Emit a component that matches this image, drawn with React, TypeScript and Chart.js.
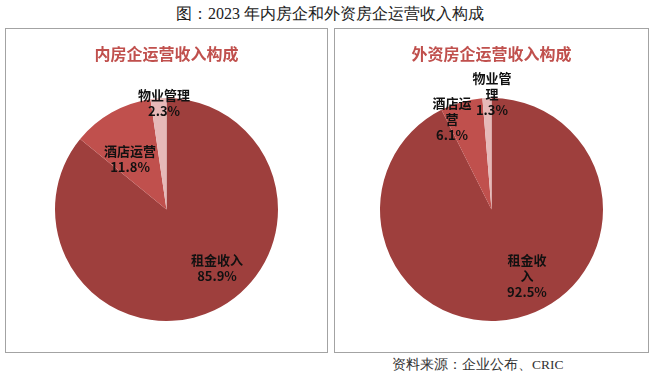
import React, { useEffect, useRef } from "react";
import { Chart, registerables } from "chart.js";

Chart.register(...registerables);

const categories = ["租金收入", "酒店运营", "物业管理"];
const domesticValues = [85.9, 11.8, 2.3];
const foreignValues = [92.5, 6.1, 1.3];
const domesticNameLines = [["租金收入"], ["酒店运营"], ["物业管理"]];
const foreignNameLines = [["租金收", "入"], ["酒店运", "营"], ["物业管", "理"]];
const sliceColors = ["#9E3F3D", "#C0504D", "#E6B9B8"];

const mainTitle = "图：2023 年内房企和外资房企运营收入构成";
const domesticTitle = "内房企运营收入构成";
const foreignTitle = "外资房企运营收入构成";
const sourceText = "资料来源：企业公布、CRIC";

type LabelOpts = { names: string[][]; offsets: [number, number][] };

const sliceLabelPlugin = {
  id: "sliceLabels",
  afterDatasetsDraw(chart: any, _args: any, opts: LabelOpts) {
    const meta = chart.getDatasetMeta(0);
    const data = chart.data.datasets[0].data as number[];
    const ctx = chart.ctx;
    ctx.save();
    ctx.font = "bold 13px 'Noto Sans CJK SC', 'Noto Sans', sans-serif";
    ctx.fillStyle = "#111";
    ctx.textAlign = "center";
    ctx.textBaseline = "middle";
    const lh = 16;
    meta.data.forEach((arc: any, i: number) => {
      const p = arc.getProps(["x", "y", "outerRadius"], true);
      const off = opts.offsets[i];
      const lines = [...opts.names[i], data[i].toFixed(1) + "%"];
      const bx = p.x + off[0] * p.outerRadius;
      const by = p.y + off[1] * p.outerRadius;
      const y0 = by - ((lines.length - 1) * lh) / 2;
      lines.forEach((t, k) => ctx.fillText(t, bx, y0 + k * lh));
    });
    ctx.restore();
  },
};

function PiePanel(props: {
  values: number[];
  names: string[][];
  offsets: [number, number][];
  title: string;
  left: number;
  width: number;
  padLeft: number;
  padRight: number;
}) {
  const ref = useRef<HTMLCanvasElement | null>(null);
  useEffect(() => {
    if (!ref.current) return;
    const chart = new Chart(ref.current, {
      type: "pie",
      data: {
        labels: categories,
        datasets: [
          {
            data: props.values,
            backgroundColor: sliceColors,
            borderWidth: 0,
          },
        ],
      },
      options: {
        responsive: false,
        animation: false,
        devicePixelRatio: 1,
        layout: {
          padding: { left: props.padLeft, right: props.padRight, top: 69, bottom: 31 },
        },
        plugins: {
          legend: { display: false },
          tooltip: { enabled: false },
          title: { display: false },
          sliceLabels: { names: props.names, offsets: props.offsets },
        } as any,
      },
      plugins: [sliceLabelPlugin as any],
    });
    return () => chart.destroy();
  }, []);
  return (
    <div
      style={{
        position: "absolute",
        left: props.left,
        top: 28,
        width: props.width,
        height: 323,
        border: "1px solid #A3A3A3",
      }}
    >
      <canvas
        ref={ref}
        width={props.width}
        height={323}
        style={{ position: "absolute", left: 0, top: 0, width: props.width, height: 323 }}
      />
      <div
        style={{
          position: "absolute",
          left: 0,
          width: props.width,
          top: 13,
          textAlign: "center",
          font: "bold 16px 'Noto Sans CJK SC', sans-serif",
          color: "#C0504D",
          lineHeight: "22px",
        }}
      >
        {props.title}
      </div>
    </div>
  );
}

export default function App() {
  return (
    <div
      style={{
        position: "absolute",
        left: 0,
        top: 0,
        width: 660,
        height: 382,
        background: "#fff",
        overflow: "hidden",
      }}
    >
      <div
        style={{
          position: "absolute",
          left: 0,
          width: 660,
          top: 3,
          textAlign: "center",
          fontFamily: "serif",
          fontSize: 16,
          lineHeight: "22px",
          color: "#222",
        }}
      >
        {mainTitle}
      </div>
      <PiePanel
        values={domesticValues}
        names={domesticNameLines}
        offsets={[
          [0.453, 0.529],
          [-0.327, -0.448],
          [-0.022, -0.951],
        ]}
        title={domesticTitle}
        left={5}
        width={321}
        padLeft={49}
        padRight={49}
      />
      <PiePanel
        values={foreignValues}
        names={foreignNameLines}
        offsets={[
          [0.318, 0.601],
          [-0.354, -0.807],
          [0.004, -1.031],
        ]}
        title={foreignTitle}
        left={334}
        width={313}
        padLeft={45}
        padRight={45}
      />
      <div
        style={{
          position: "absolute",
          left: 392,
          top: 356,
          fontFamily: "serif",
          fontSize: 13.5,
          lineHeight: "18px",
          color: "#333",
          whiteSpace: "nowrap",
        }}
      >
        {sourceText}
      </div>
    </div>
  );
}
